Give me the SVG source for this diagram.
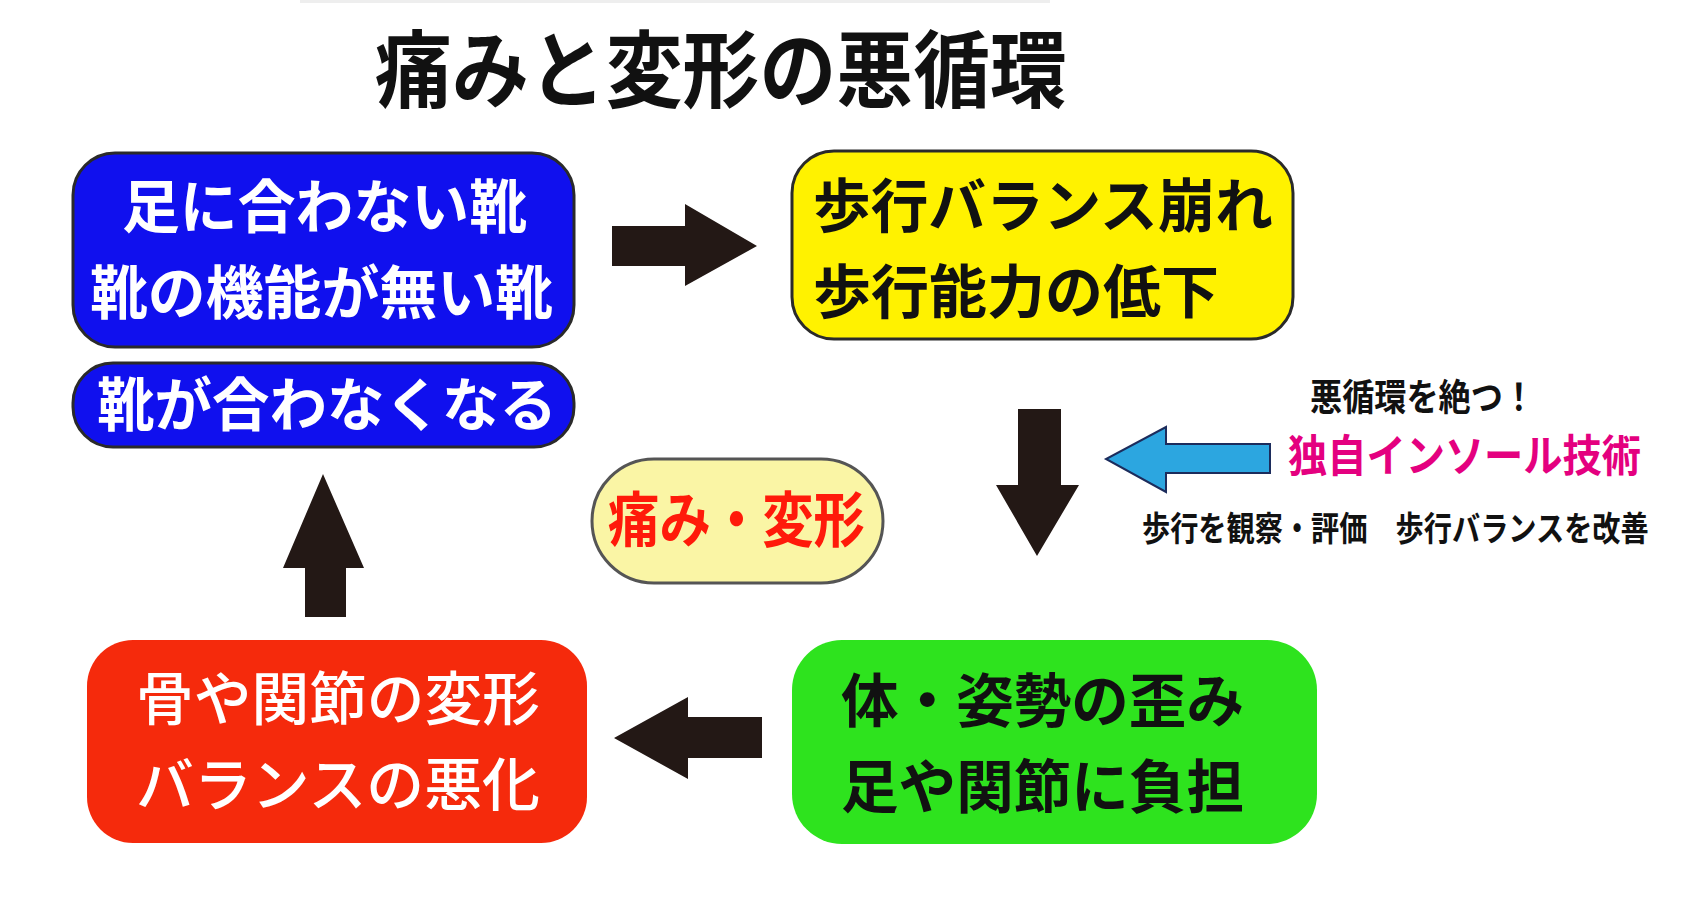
<svg xmlns="http://www.w3.org/2000/svg" width="1689" height="900" viewBox="0 0 1689 900">
<style>
.t{font-family:"Noto Sans CJK JP","Noto Sans CJK SC",sans-serif;font-weight:bold}
.n{font-family:"Noto Sans CJK JP","Noto Sans CJK SC",sans-serif;font-weight:500}
.w{fill:#ffffff}
.k{fill:#111111}
.arr{fill:#231815}
.box{stroke:#2a2a2a;stroke-width:3}
</style>
<rect x="0" y="0" width="1689" height="900" fill="#ffffff"/>
<rect x="300" y="0" width="750" height="3" fill="#eeeeee"/>
<g id="title">
<text class="t k" x="375" y="101" font-size="84" textLength="692" lengthAdjust="spacingAndGlyphs">痛みと変形の悪循環</text>
</g>
<g id="node-shoes">
<rect class="box" x="73" y="153" width="501" height="194" rx="42" fill="#1010ee"/>
<text class="t w" x="122" y="228" font-size="58" textLength="405" lengthAdjust="spacingAndGlyphs">足に合わない靴</text>
<text class="t w" x="90" y="314" font-size="58" textLength="463" lengthAdjust="spacingAndGlyphs">靴の機能が無い靴</text>
</g>
<g id="node-unfit">
<rect class="box" x="73" y="363" width="501" height="84" rx="40" fill="#1010ee"/>
<text class="t w" x="97" y="426" font-size="58" textLength="460" lengthAdjust="spacingAndGlyphs">靴が合わなくなる</text>
</g>
<g id="node-balance">
<rect class="box" x="792" y="151" width="501" height="188" rx="42" fill="#fff200"/>
<text class="t k" x="813" y="227" font-size="58" textLength="460" lengthAdjust="spacingAndGlyphs">歩行バランス崩れ</text>
<text class="t k" x="813" y="313" font-size="58" textLength="406" lengthAdjust="spacingAndGlyphs">歩行能力の低下</text>
</g>
<g id="node-pain">
<rect x="592" y="459" width="291" height="124" rx="62" fill="#faf5a5" stroke="#555555" stroke-width="3"/>
<text class="t" x="608" y="542" font-size="60" fill="#ff1a0a" textLength="257" lengthAdjust="spacingAndGlyphs">痛み・変形</text>
</g>
<g id="node-deform">
<rect x="87" y="640" width="500" height="203" rx="46" fill="#f52a0c"/>
<text class="n w" x="136" y="720" font-size="58" textLength="404" lengthAdjust="spacingAndGlyphs">骨や関節の変形</text>
<text class="n w" x="136" y="806" font-size="58" textLength="404" lengthAdjust="spacingAndGlyphs">バランスの悪化</text>
</g>
<g id="node-distort">
<rect x="792" y="640" width="525" height="204" rx="50" fill="#2ee31e"/>
<text class="t k" x="841" y="722" font-size="58" textLength="403" lengthAdjust="spacingAndGlyphs">体・姿勢の歪み</text>
<text class="t k" x="841" y="808" font-size="58" textLength="403" lengthAdjust="spacingAndGlyphs">足や関節に負担</text>
</g>
<g id="node-insole">
<text class="t k" x="1310" y="411" font-size="37" textLength="225" lengthAdjust="spacingAndGlyphs">悪循環を絶つ！</text>
<text class="t" x="1288" y="472" font-size="44" fill="#e4007f" textLength="353" lengthAdjust="spacingAndGlyphs">独自インソール技術</text>
<text class="t k" transform="translate(1142,541) scale(1,1.2)" x="0" y="0" font-size="28.2">歩行を観察・評価　歩行バランスを改善</text>
</g>
<g id="connectors">
<polygon class="arr" points="612,226 685,226 685,204 757,246 685,286 685,266 612,266"/>
<polygon class="arr" points="1018,409 1061,409 1061,485 1079,485 1037,556 996,485 1018,485"/>
<polygon class="arr" points="762,717 688,717 688,697 614,738 688,779 688,758 762,758"/>
<polygon class="arr" points="305,617 305,568 283,568 323,474 364,568 346,568 346,617"/>
<polygon points="1270,444 1166,444 1166,427 1106,459 1166,492 1166,473 1270,473" fill="#2ca6e0" stroke="#1c2c5c" stroke-width="2"/>
</g>
</svg>
